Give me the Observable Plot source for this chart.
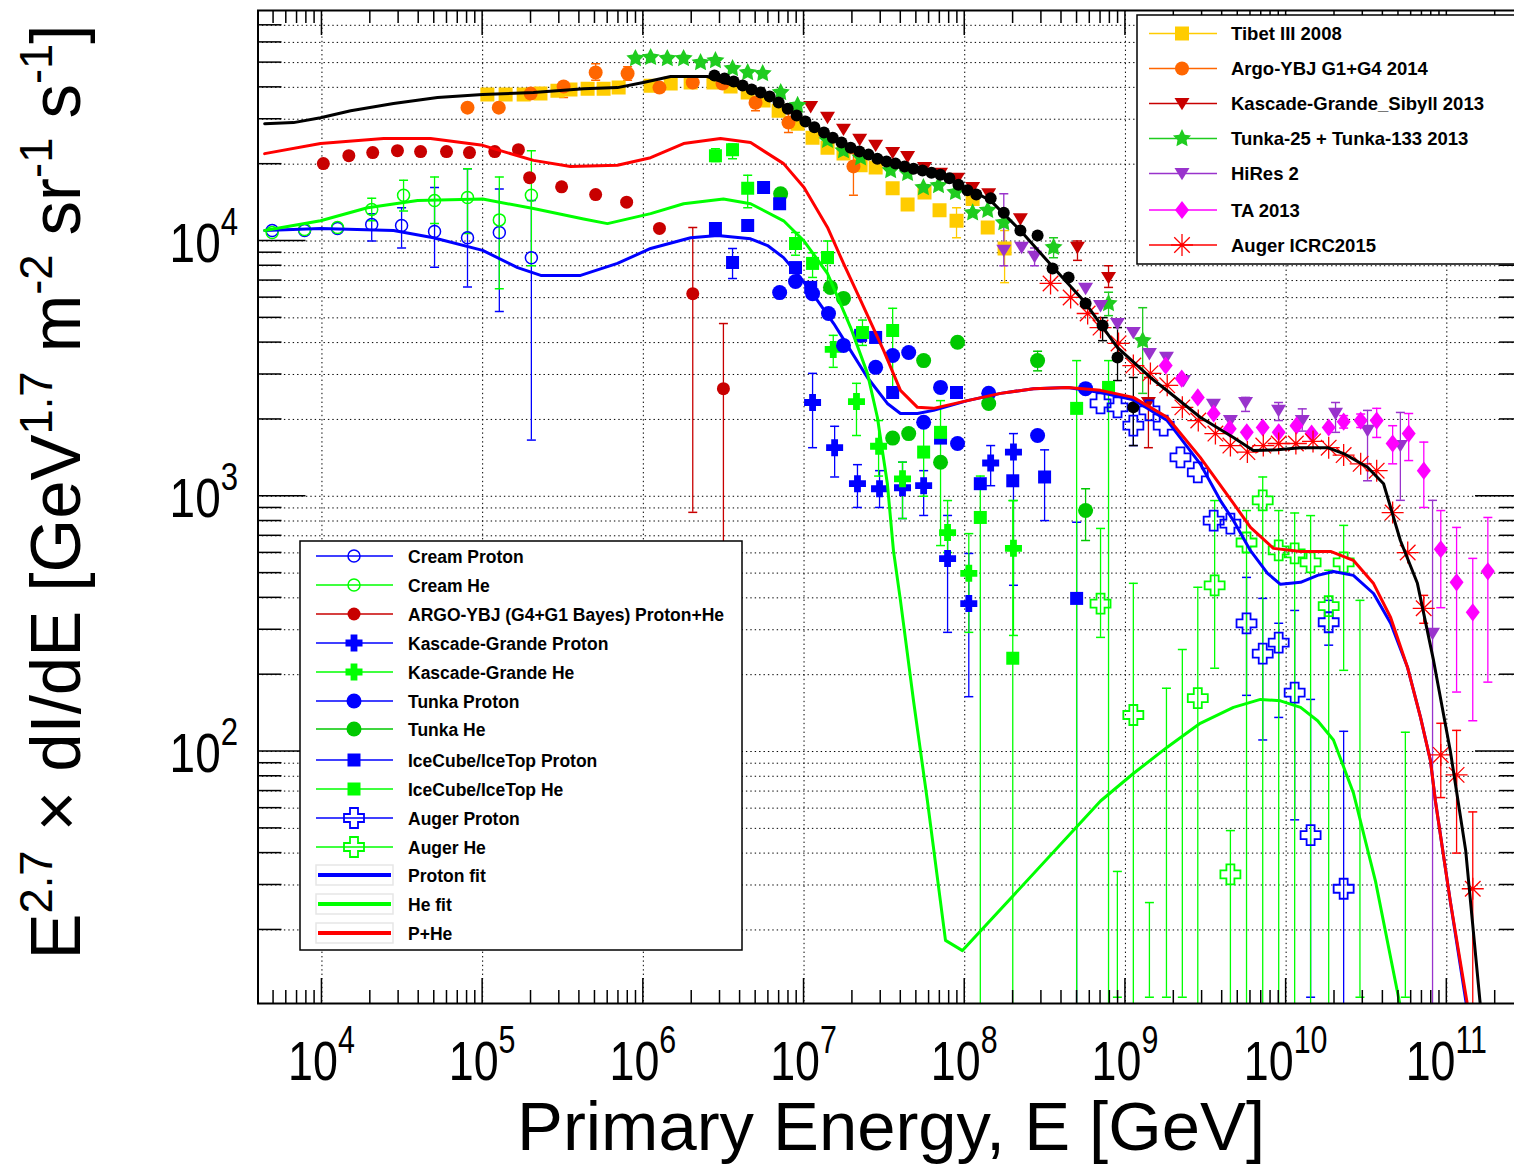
<!DOCTYPE html>
<html><head><meta charset="utf-8">
<script src="https://cdn.jsdelivr.net/npm/d3@7"></script>
<script src="https://cdn.jsdelivr.net/npm/@observablehq/plot@0.6"></script>
<style>
html,body{margin:0;padding:0;background:#fff;overflow:hidden;}
#wrap{width:1514px;height:1167px;overflow:hidden;position:relative;background:#fff;}
</style></head><body><div id="wrap"></div>
<script>
// ---------- data: [E (GeV), E^2.7 dI/dE, errLow, errHigh] ----------
const tibet = [[1.07e5,3.75e4],[1.39e5,3.75e4],[1.8e5,3.75e4],[2.29e5,3.78e4],[2.92e5,3.88e4],[3.52e5,3.92e4],[4.5e5,3.95e4],[5.66e5,3.95e4],[7.02e5,3.99e4],[1.11e6,4.06e4],[1.48e6,4.14e4],[1.97e6,4.18e4],[2.73e6,4.18e4],[3.49e6,4.03e4],[4.46e6,3.82e4],[5.6e6,3.55e4],[6.95e6,3.24e4],[9.12e6,2.88e4],[1.13e7,2.54e4],[1.4e7,2.32e4],[1.76e7,2.2e4],[2.25e7,1.98e4],[2.79e7,1.94e4],[3.56e7,1.61e4],[4.41e7,1.39e4],[5.62e7,1.55e4],[6.97e7,1.32e4],[8.89e7,1.2e4,1.03e4,1.35e4],[1.12e8,1.46e4],[1.39e8,1.13e4],[1.77e8,9.35e3,6.87e3,1.1e4]];
const argo2014 = [[8.05e4,3.33e4],[1.26e5,3.33e4],[1.99e5,3.78e4],[3.19e5,4.03e4,3.65e4,4.18e4],[5.05e5,4.57e4,4.26e4,4.95e4],[7.98e5,4.53e4,4.26e4,4.82e4],[1.26e6,3.99e4],[2.03e6,4.18e4],[3.11e6,4.14e4],[4.99e6,3.48e4,3.24e4,3.65e4],[8.0e6,2.91e4,2.66e4,3.16e4],[2.03e7,1.96e4,1.51e4,2.2e4]];
const kgSibyll = [[1.1e7,3.36e4],[1.4e7,3.05e4],[1.76e7,2.74e4],[2.22e7,2.5e4],[2.79e7,2.37e4],[3.56e7,2.22e4],[4.41e7,2.14e4],[5.62e7,1.94e4],[7.07e7,1.84e4],[9.02e7,1.76e4],[1.12e8,1.62e4],[1.41e8,1.53e4],[2.22e8,1.22e4],[5.03e8,9.44e3,8.4e3,1.0e4],[7.85e8,7.19e3,6.58e3,8.0e3],[1.39e9,2.33e3,1.55e3,2.92e3]];
const tunka2013 = [[8.93e5,5.19e4],[1.11e6,5.24e4],[1.41e6,5.19e4],[1.78e6,5.19e4],[2.27e6,5.0e4],[2.81e6,5.09e4],[3.59e6,4.74e4],[4.46e6,4.57e4],[5.53e6,4.53e4],[7.16e6,3.82e4],[9.12e6,3.4e4],[1.4e7,2.48e4],[1.76e7,2.26e4],[2.25e7,2.12e4],[3.46e7,1.89e4],[4.41e7,1.84e4],[5.53e7,1.62e4],[6.87e7,1.65e4],[8.75e7,1.55e4],[1.12e8,1.29e4],[1.39e8,1.32e4],[1.75e8,1.18e4],[3.57e8,9.44e3,8.6e3,1.03e4],[7.85e8,5.69e3,5.1e3,6.3e3],[1.28e9,4.07e3,2.53e3,5.48e3]];
const hires2 = [[1.75e8,9.2e3,8.0e3,1.53e4],[2.26e8,9.44e3],[2.72e8,8.7e3,8.0e3,9.4e3],[5.65e8,6.52e3],[7.0e8,5.58e3],[8.92e8,4.75e3],[1.12e9,4.38e3],[1.41e9,3.62e3],[1.8e9,3.5e3],[2.3e9,2.84e3],[3.53e9,2.29e3],[4.5e9,1.98e3],[5.59e9,2.33e3,2.15e3,2.44e3],[8.97e9,2.17e3,1.98e3,2.33e3],[1.26e10,1.98e3,1.8e3,2.2e3],[2.03e10,2.11e3,1.78e3,2.33e3],[3.21e10,1.81e3,1.15e3,2.17e3],[5.14e10,1.58e3,964,2.13e3],[8.15e10,290,5,964]];
const ta2013 = [[1.78e9,3.25e3],[2.24e9,2.89e3],[2.82e9,2.44e3],[3.54e9,2.11e3],[4.46e9,1.84e3],[5.69e9,1.78e3],[7.15e9,1.86e3],[8.99e9,1.78e3],[1.16e10,1.89e3],[1.44e10,1.76e3],[1.84e10,1.86e3],[2.28e10,1.96e3,1.85e3,2.07e3],[2.91e10,1.98e3,1.86e3,2.1e3],[3.66e10,1.98e3,1.7e3,2.21e3],[4.6e10,1.61e3,1.34e3,1.89e3],[5.79e10,1.76e3,1.38e3,2.11e3],[7.19e10,1.26e3,904,1.63e3],[9.17e10,620,366,879],[1.15e11,460,171,755],[1.45e11,351,132,571],[1.8e11,508,187,826]];
const augerIcrc = [[3.42e8,6.82e3],[4.56e8,6.01e3],[5.82e8,5.2e3],[7.0e8,4.58e3],[9.06e8,3.97e3],[1.12e9,3.25e3],[1.43e9,3.03e3],[1.82e9,2.72e3],[2.26e9,2.23e3],[2.84e9,1.98e3],[3.63e9,1.76e3],[4.5e9,1.58e3],[5.74e9,1.49e3],[7.21e9,1.58e3],[8.99e9,1.61e3],[1.15e10,1.61e3],[1.47e10,1.64e3],[1.84e10,1.55e3],[2.28e10,1.45e3],[2.91e10,1.34e3],[3.66e10,1.26e3],[4.6e10,863],[5.71e10,602],[7.18e10,364,318,409],[9.17e10,97,66,129],[1.15e11,81,40,121],[1.45e11,29,5,58]];
const allParticle = [[2.77e6,4.45e4],[3.2e6,4.33e4],[3.65e6,4.22e4],[4.15e6,4.07e4],[4.72e6,3.92e4],[5.37e6,3.82e4],[6.11e6,3.68e4],[6.95e6,3.49e4],[7.91e6,3.3e4],[9.0e6,3.1e4],[1.02e7,2.94e4],[1.16e7,2.79e4],[1.33e7,2.66e4],[1.51e7,2.54e4],[1.71e7,2.43e4],[1.95e7,2.32e4],[2.21e7,2.24e4],[2.52e7,2.18e4],[2.86e7,2.1e4],[3.26e7,2.05e4],[3.71e7,2.01e4],[4.22e7,1.96e4],[4.8e7,1.92e4],[5.46e7,1.89e4],[6.21e7,1.85e4],[7.06e7,1.82e4],[8.03e7,1.76e4],[9.14e7,1.66e4],[1.04e8,1.58e4],[1.18e8,1.52e4],[1.45e8,1.47e4],[1.75e8,1.29e4],[2.22e8,1.1e4],[2.84e8,1.05e4],[3.52e8,7.8e3],[4.43e8,7.19e3],[5.65e8,5.69e3],[7.21e8,4.67e3,4.07e3,5.01e3],[8.93e8,3.5e3,2.84e3,4.58e3],[1.12e9,2.23e3,1.58e3,2.92e3]];
const creamP = [[4.9e3,1.1e4],[7.8e3,1.1e4],[1.25e4,1.12e4],[2.04e4,1.16e4,1.0e4,1.28e4],[3.13e4,1.15e4,9.4e3,1.35e4],[5.02e4,1.09e4,7.9e3,1.62e4],[8.05e4,1.03e4,6.6e3,1.92e4],[1.27e5,1.08e4,5.3e3,1.6e4],[2.01e5,8.6e3,1.66e3,1.44e4]];
const creamHe = [[4.9e3,1.08e4],[7.8e3,1.11e4],[1.25e4,1.13e4],[2.04e4,1.33e4,1.2e4,1.47e4],[3.22e4,1.51e4,1.31e4,1.73e4],[5.02e4,1.44e4,1.17e4,1.78e4],[8.05e4,1.48e4,1.07e4,1.92e4],[1.27e5,1.21e4,6.5e3,1.78e4],[2.01e5,1.51e4,8.0e3,2.26e4]];
const argoPHe = [[1.02e4,2.01e4],[1.47e4,2.16e4],[2.07e4,2.22e4],[2.95e4,2.26e4],[4.11e4,2.24e4],[5.96e4,2.24e4],[8.28e4,2.22e4],[1.19e5,2.24e4],[1.67e5,2.28e4],[1.96e5,1.77e4],[3.1e5,1.63e4],[5.05e5,1.52e4],[7.87e5,1.42e4],[1.26e6,1.12e4],[2.03e6,6.22e3,865,1.13e4],[3.15e6,2.64e3,400,4.75e3]];
const kgP = [[1.13e7,2.33e3,1.55e3,3.03e3],[1.55e7,1.55e3,1.19e3,1.88e3],[2.15e7,1.12e3,904,1.33e3],[2.95e7,1.07e3,904,1.26e3],[4.1e7,1.08e3,818,1.36e3],[5.55e7,1.1e3,841,1.26e3],[7.82e7,570,293,841],[1.06e8,380,164,597],[1.45e8,1.35e3,1.1e3,1.58e3],[2.01e8,1.49e3,448,1.76e3]];
const kgHe = [[1.52e7,3.76e3,3.2e3,4.27e3],[2.12e7,2.35e3,1.73e3,2.77e3],[2.91e7,1.57e3,1.2e3,1.98e3],[4.1e7,1.17e3,818,1.36e3],[7.82e7,721,602,962],[1.06e8,499,293,714],[2.01e8,625,285,962]];
const tunkaP = [[7.05e6,6.28e3],[8.85e6,6.94e3],[1.13e7,6.22e3],[1.42e7,5.2e3],[1.76e7,3.9e3],[2.25e7,4.27e3],[2.79e7,3.2e3],[3.56e7,3.56e3],[4.48e7,3.66e3],[5.55e7,1.95e3],[7.07e7,2.67e3],[9.02e7,1.61e3],[1.41e8,2.53e3],[2.84e8,1.73e3],[5.65e8,2.64e3]];
const tunkaHe = [[7.15e6,1.53e4],[1.46e7,6.58e3],[1.76e7,5.96e3],[3.56e7,1.69e3],[4.48e7,1.76e3],[5.55e7,3.4e3],[7.07e7,1.36e3],[9.02e7,4.01e3],[1.41e8,2.31e3],[2.84e8,3.4e3,3.1e3,3.7e3],[5.65e8,879,671,1.07e3]];
const icecubeP = [[2.81e6,1.12e4],[3.59e6,8.24e3,7.13e3,9.35e3],[4.46e6,1.15e4],[5.6e6,1.62e4],[7.05e6,1.4e4],[8.85e6,7.87e3],[1.1e7,6.58e3],[2.25e7,4.27e3],[2.79e7,4.19e3],[3.56e7,2.55e3],[7.07e7,1.69e3],[8.89e7,2.55e3],[1.25e8,1.12e3],[1.99e8,1.15e3],[3.14e8,1.19e3,803,1.52e3],[4.97e8,398,5,791]];
const icecubeHe = [[2.81e6,2.16e4,2.05e4,2.3e4],[3.59e6,2.28e4,2.1e4,2.4e4],[4.46e6,1.61e4,1.35e4,1.81e4],[8.85e6,9.77e3,8.8e3,1.08e4],[1.13e7,8.17e3,7.2e3,9.0e3],[1.4e7,8.61e3,6.4e3,1.0e4],[2.31e7,4.38e3,3.9e3,4.9e3],[3.56e7,4.46e3,2.48e3,5.45e3],[5.55e7,1.49e3,1.0e3,1.98e3],[7.07e7,1.78e3,641,2.37e3],[1.25e8,826,5,1.2e3],[1.99e8,232,5,962],[4.97e8,2.21e3,5,3.4e3],[7.85e8,2.67e3,5,3.4e3]];
const augerP = [[7.0e8,2.31e3],[8.93e8,2.23e3],[1.12e9,1.89e3,1.58e3,2.17e3],[1.41e9,2.17e3],[1.73e9,1.89e3],[2.2e9,1.42e3],[2.82e9,1.24e3],[3.54e9,803],[4.5e9,782],[5.67e9,318,166,481],[7.15e9,242,111,398],[8.99e9,267,136,318],[1.13e10,170,54,357],[1.42e10,47,10.9,160],[1.84e10,321,261,391],[2.28e10,29,5,120]];
const augerHe = [[7.0e8,380,280,748],[1.12e9,139,5,456],[2.82e9,162,5,440],[3.59e9,448,212,962],[4.5e9,33,5,49],[5.67e9,659,5,879],[7.15e9,964,5,1.19e3],[8.99e9,614,5,879],[1.13e10,597,5,860],[1.42e10,551,5,840],[1.84e10,371,5,513],[2.28e10,551,208,769]];
const augerHeBarsOnly = [[8.91e8,10.9,33.9],[1.41e9,10.9,25.6],[1.8e9,10.9,177],[2.26e9,10.9,251],[2.88e10,10.9,391],[5.52e10,10.9,119]];

// ---------- fit curves ----------
const protonFit = [[4.4e3,1.1e4],[9.8e3,1.12e4],[2.79e4,1.1e4],[4.94e4,1.03e4],[1e5,9.19e3],[1.65e5,7.87e3],[2.3e5,7.33e3],[4.07e5,7.33e3],[6.9e5,8.17e3],[1.11e6,9.35e3],[1.97e6,1.03e4],[2.9e6,1.05e4],[4.65e6,1.02e4],[5.93e6,9.6e3],[7.46e6,8.61e3],[9.5e6,7.19e3],[1.21e7,5.85e3],[1.53e7,4.75e3],[1.95e7,3.72e3],[2.48e7,2.92e3],[3.3e7,2.31e3],[3.98e7,2.11e3],[5.08e7,2.11e3],[6.4e7,2.17e3],[1.04e8,2.37e3],[1.67e8,2.53e3],[2.68e8,2.64e3],[4.37e8,2.67e3],[7.0e8,2.55e3],[1.12e9,2.39e3],[1.82e9,1.98e3],[2.92e9,1.34e3],[3.9e9,962],[4.7e9,803],[6.0e9,612],[7.66e9,499],[9.22e9,452],[1.23e10,460],[1.57e10,490],[1.97e10,507],[2.62e10,490],[3.5e10,416],[4.47e10,318],[5.69e10,214],[6.86e10,136],[7.91e10,92],[8.49e10,64],[1.05e11,26],[1.33e11,10]];
const heFit = [[4.4e3,1.1e4],[9.8e3,1.2e4],[1.92e4,1.35e4],[3.94e4,1.44e4],[1e5,1.46e4],[2.07e5,1.34e4],[4.25e5,1.22e4],[5.98e5,1.17e4],[1.11e6,1.28e4],[1.78e6,1.4e4],[3.15e6,1.46e4],[4.65e6,1.4e4],[7.46e6,1.2e4],[1.0e7,1.0e4],[1.4e7,7.46e3],[1.95e7,4.58e3],[2.48e7,3.03e3],[2.86e7,2.04e3],[3.3e7,1.12e3],[3.6e7,614],[3.98e7,391],[4.8e7,158],[5.86e7,64],[7.59e7,18.2],[9.68e7,16.6],[7.0e8,64],[1.12e9,82],[1.82e9,104],[2.92e9,129],[4.7e9,149],[6.92e9,160],[9.22e9,158],[1.23e10,149],[1.57e10,132],[1.97e10,111],[2.62e10,69],[3.6e10,31],[5.14e10,10]];
const pHeFit = [[4.4e3,2.2e4],[9.8e3,2.41e4],[2.42e4,2.52e4],[4.74e4,2.52e4],[1e5,2.37e4],[2.07e5,2.07e4],[3.52e5,1.96e4],[6.9e5,1.98e4],[1.11e6,2.12e4],[1.78e6,2.41e4],[3.02e6,2.52e4],[4.65e6,2.43e4],[7.46e6,2.01e4],[1.0e7,1.62e4],[1.4e7,1.13e4],[1.76e7,8.17e3],[2.25e7,5.85e3],[3.13e7,3.72e3],[3.98e7,2.6e3],[5.08e7,2.23e3],[6.4e7,2.21e3],[1.04e8,2.37e3],[1.67e8,2.53e3],[2.68e8,2.64e3],[4.37e8,2.67e3],[7.0e8,2.6e3],[1.12e9,2.44e3],[1.82e9,2.04e3],[2.92e9,1.42e3],[4.7e9,938],[6.0e9,755],[8.34e9,625],[1.23e10,608],[1.89e10,608],[2.62e10,561],[3.5e10,455],[4.47e10,335],[5.69e10,214],[6.86e10,136],[7.91e10,92],[8.49e10,64],[1.05e11,26],[1.35e11,10]];
const allFit = [[4.4e3,2.88e4],[6.65e3,2.91e4],[9.8e3,3.04e4],[1.51e4,3.24e4],[2.79e4,3.46e4],[5.24e4,3.65e4],[1e5,3.75e4],[2.07e5,3.82e4],[4.25e5,3.95e4],[6.9e5,3.99e4],[1.0e6,4.18e4],[1.48e6,4.41e4],[2.5e6,4.41e4],[3.15e6,4.18e4],[4.65e6,3.95e4],[5.93e6,3.78e4],[1.0e7,2.96e4],[1.52e7,2.54e4],[2.48e7,2.2e4],[3.98e7,2.01e4],[6.38e7,1.85e4],[1.01e8,1.62e4],[1.45e8,1.44e4],[2.22e8,1.1e4],[3.56e8,7.87e3],[5.48e8,5.85e3],[8.9e8,3.83e3],[1.43e9,2.92e3],[1.82e9,2.59e3],[2.92e9,2.04e3],[4.7e9,1.7e3],[6.25e9,1.51e3],[8.83e9,1.52e3],[1.23e10,1.55e3],[1.81e10,1.55e3],[2.28e10,1.47e3],[3.21e10,1.3e3],[4.04e10,1.12e3],[5.14e10,671],[6.56e10,456],[8.26e10,228],[1.05e11,101],[1.31e11,41],[1.62e11,10]];

// ---------- axes ----------
const xDomain = [4e3, 3e11];
const yDomain = [10.3, 8e4];
const xLabelExps = [4,5,6,7,8,9,10,11];
const yLabelExps = [2,3,4];
const decadeMultipliers = [1,2,3,4,5,6,7,8,9];

// ---------- symbols ----------
const rOf = s => Math.sqrt(s / Math.PI);
const symSquare = {draw(c,s){const r=rOf(s); c.rect(-r,-r,2*r,2*r);}};
const symDown = {draw(c,s){const r=rOf(s); c.moveTo(0,r*0.9); c.lineTo(-r,-r*0.75); c.lineTo(r,-r*0.75); c.closePath();}};
const symDiamond = {draw(c,s){const r=rOf(s); c.moveTo(0,-r*1.3); c.lineTo(r,0); c.lineTo(0,r*1.3); c.lineTo(-r,0); c.closePath();}};
const symAst = {draw(c,s){const r=rOf(s), d=r*Math.SQRT1_2; c.moveTo(-r,0);c.lineTo(r,0);c.moveTo(0,-r);c.lineTo(0,r);c.moveTo(-d,-d);c.lineTo(d,d);c.moveTo(-d,d);c.lineTo(d,-d);}};
const symPlus = {draw(c,s){const r=rOf(s), w=r*0.4; c.moveTo(-w,-r);c.lineTo(w,-r);c.lineTo(w,-w);c.lineTo(r,-w);c.lineTo(r,w);c.lineTo(w,w);c.lineTo(w,r);c.lineTo(-w,r);c.lineTo(-w,w);c.lineTo(-r,w);c.lineTo(-r,-w);c.lineTo(-w,-w);c.closePath();}};
const symStar = {draw(c,s){const r=rOf(s), ri=r*0.5; for (let i=0;i<10;i++){const a=-Math.PI/2+i*Math.PI/5, q=i%2?ri:r; if(i===0) c.moveTo(q*Math.cos(a),q*Math.sin(a)); else c.lineTo(q*Math.cos(a),q*Math.sin(a));} c.closePath();}};
const symCap = {draw(c,s){const r=rOf(s); c.moveTo(-r,0); c.lineTo(r,0);}};

const BLUE="#0000ff", GREEN="#00ff00", DKGREEN="#00c800", RED="#ff0000", DKRED="#c80000",
      ORANGE="#ff6600", YELLOW="#ffcc00", PURPLE="#9933cc", MAGENTA="#ff00ff", TGREEN="#1fcc1f";

const series = [
  {name:"Tibet III 2008", data:tibet, color:YELLOW, symbol:symSquare, r:7, fill:YELLOW, stroke:"none", sw:0, leg:"top"},
  {name:"Argo-YBJ G1+G4 2014", data:argo2014, color:ORANGE, symbol:d3.symbolCircle, r:7, fill:ORANGE, stroke:"none", sw:0, leg:"top"},
  {name:"Kascade-Grande_Sibyll 2013", data:kgSibyll, color:DKRED, symbol:symDown, r:7.5, fill:DKRED, stroke:"none", sw:0, leg:"top"},
  {name:"Tunka-25 + Tunka-133 2013", data:tunka2013, color:TGREEN, symbol:symStar, r:9.5, fill:TGREEN, stroke:"none", sw:0, leg:"top"},
  {name:"HiRes 2", data:hires2, color:PURPLE, symbol:symDown, r:7.5, fill:PURPLE, stroke:"none", sw:0, leg:"top"},
  {name:"TA 2013", data:ta2013, color:MAGENTA, symbol:symDiamond, r:7, fill:MAGENTA, stroke:"none", sw:0, leg:"top"},
  {name:"Auger ICRC2015", data:augerIcrc, color:RED, symbol:symAst, r:11, fill:"none", stroke:RED, sw:1.3, leg:"top"},
  {name:"Cream Proton", data:creamP, color:BLUE, symbol:d3.symbolCircle, r:6, fill:"none", stroke:BLUE, sw:1.5, leg:"bottom"},
  {name:"Cream He", data:creamHe, color:GREEN, symbol:d3.symbolCircle, r:6, fill:"none", stroke:GREEN, sw:1.5, leg:"bottom"},
  {name:"ARGO-YBJ (G4+G1 Bayes) Proton+He", data:argoPHe, color:DKRED, symbol:d3.symbolCircle, r:6.5, fill:DKRED, stroke:"none", sw:0, leg:"bottom"},
  {name:"Kascade-Grande Proton", data:kgP, color:BLUE, symbol:symPlus, r:8.5, fill:BLUE, stroke:"none", sw:0, leg:"bottom"},
  {name:"Kascade-Grande He", data:kgHe, color:GREEN, symbol:symPlus, r:8.5, fill:GREEN, stroke:"none", sw:0, leg:"bottom"},
  {name:"Tunka Proton", data:tunkaP, color:BLUE, symbol:d3.symbolCircle, r:7.5, fill:BLUE, stroke:"none", sw:0, leg:"bottom"},
  {name:"Tunka He", data:tunkaHe, color:DKGREEN, symbol:d3.symbolCircle, r:7.5, fill:DKGREEN, stroke:"none", sw:0, leg:"bottom"},
  {name:"IceCube/IceTop Proton", data:icecubeP, color:BLUE, symbol:symSquare, r:6.5, fill:BLUE, stroke:"none", sw:0, leg:"bottom"},
  {name:"IceCube/IceTop He", data:icecubeHe, color:GREEN, symbol:symSquare, r:6.5, fill:GREEN, stroke:"none", sw:0, leg:"bottom"},
  {name:"Auger Proton", data:augerP, color:BLUE, symbol:symPlus, r:10, fill:"none", stroke:BLUE, sw:1.8, leg:"bottom"},
  {name:"Auger He", data:augerHe, color:GREEN, symbol:symPlus, r:10, fill:"none", stroke:GREEN, sw:1.8, leg:"bottom"},
  {name:null, data:allParticle, color:"#000", symbol:d3.symbolCircle, r:6, fill:"#000", stroke:"none", sw:0}
];
const fits = [
  {name:"Proton fit", data:protonFit, color:BLUE},
  {name:"He fit", data:heFit, color:GREEN},
  {name:"P+He", data:pHeFit, color:RED},
  {name:null, data:allFit, color:"#000"}
];

// ---------- build marks ----------
const gridY = [], minorX = [];
for (const e of [1,2,3,4]) for (const m of decadeMultipliers) { const v = m*Math.pow(10,e); if (v > yDomain[0] && v < yDomain[1]) gridY.push(v); }
for (const e of [3,4,5,6,7,8,9,10,11]) for (const m of decadeMultipliers) { const v = m*Math.pow(10,e); if (v > xDomain[0] && v < xDomain[1]) minorX.push(v); }
const gridX = xLabelExps.map(e => Math.pow(10,e));

const X = d => d[0], Y = d => d[1];
const marks = [
  Plot.ruleY(gridY, {y: d=>d, stroke:"#000", strokeWidth:1, strokeDasharray:"1.4,3"}),
  Plot.ruleX(gridX, {x: d=>d, stroke:"#000", strokeWidth:1, strokeDasharray:"1.4,3"})
];
function errMarks(data, color) {
  return [
    Plot.ruleX(data, {x:X, y1:d=>d[2], y2:d=>d[3], stroke:color, strokeWidth:1.3, clip:true}),
    Plot.dot(data, {x:X, y:d=>d[2], symbol:symCap, r:4.5, fill:"none", stroke:color, strokeWidth:1.5, clip:true}),
    Plot.dot(data, {x:X, y:d=>d[3], symbol:symCap, r:4.5, fill:"none", stroke:color, strokeWidth:1.5, clip:true})
  ];
}
for (const s of series) {
  const err = s.data.filter(d => d.length > 2);
  if (err.length) marks.push(...errMarks(err, s.color));
}
marks.push(...errMarks(augerHeBarsOnly.map(d => [d[0], null, d[1], d[2]]), GREEN));
for (const s of series) {
  marks.push(Plot.dot(s.data, {x:X, y:Y, symbol:s.symbol, r:s.r, fill:s.fill, stroke:s.stroke, strokeWidth:s.sw, clip:true}));
}
for (const f of fits) {
  marks.push(Plot.line(f.data, {x:X, y:Y, stroke:f.color, strokeWidth:3, clip:true}));
}
marks.push(Plot.frame({stroke:"#000", strokeWidth:2}));

const plot = Plot.plot({
  width: 1526, height: 1167,
  marginLeft: 257.5, marginRight: 3, marginTop: 10, marginBottom: 164,
  x: {type:"log", domain:xDomain, axis:null},
  y: {type:"log", domain:yDomain, axis:null},
  style: {background:"#fff", maxWidth:"none", overflow:"hidden"},
  marks
});
document.getElementById("wrap").appendChild(plot);

// ---------- ROOT-style ticks, labels, titles, legends ----------
const FONT = "'Liberation Sans', Arial, Helvetica, sans-serif";
const sx = plot.scale("x"), sy = plot.scale("y");
const svg = d3.select(plot);
const [L, R] = sx.range, [B, T] = sy.range;
const tg = svg.append("g").attr("stroke","#000").attr("stroke-width",1.5);
for (const v of minorX) {
  const x = sx.apply(v), major = gridX.includes(v);
  const len = major ? 25 : 13;
  tg.append("line").attr("x1",x).attr("x2",x).attr("y1",T).attr("y2",T+len);
  tg.append("line").attr("x1",x).attr("x2",x).attr("y1",B).attr("y2",B-len);
}
for (const v of gridY) {
  const y = sy.apply(v), major = yLabelExps.some(e => Math.pow(10,e) === v);
  const len = major ? 48 : 24;
  tg.append("line").attr("x1",L).attr("x2",L+len).attr("y1",y).attr("y2",y);
  tg.append("line").attr("x1",R).attr("x2",R-len).attr("y1",y).attr("y2",y);
}
function powLabel(x, y, e, anchor, sc) {
  const t = svg.append("text").attr("transform",`translate(${x},${y}) scale(${sc},1)`)
    .attr("text-anchor",anchor).attr("font-family",FONT).attr("font-size",56).attr("fill","#000");
  t.append("tspan").text("10");
  t.append("tspan").attr("font-size",38).attr("dy",-27).text(String(e));
}
for (const e of xLabelExps) powLabel(sx.apply(Math.pow(10,e)), 1080, e, "middle", 0.8);
for (const e of yLabelExps) powLabel(238, sy.apply(Math.pow(10,e)) + 21, e, "end", 0.82);

svg.append("text").attr("x", 891).attr("y", 1150).attr("text-anchor","middle")
  .attr("font-family",FONT).attr("font-size",68).attr("fill","#000")
  .attr("textLength",748).attr("lengthAdjust","spacingAndGlyphs")
  .text("Primary Energy, E [GeV]");

const yt = svg.append("text").attr("transform","translate(80,492) rotate(-90)").attr("text-anchor","middle")
  .attr("font-family",FONT).attr("font-size",70).attr("fill","#000")
  .attr("textLength",935).attr("lengthAdjust","spacingAndGlyphs");
const ytParts = [["E",0],["2.7",1],[" \u00d7 dI/dE [GeV",0],["1.7",1],[" m",0],["-2",1],[" sr",0],["-1",1],[" s",0],["-1",1],["]",0]];
let up = false;
for (const [txt, sup] of ytParts) {
  const ts = yt.append("tspan").text(txt);
  if (sup && !up) { ts.attr("font-size",46).attr("dy",-28); up = true; }
  else if (sup) { ts.attr("font-size",46); }
  else if (up) { ts.attr("dy",28); up = false; }
}

function legendEntry(g, s, yc, x0, x1, xm, xt, fs) {
  g.append("line").attr("x1",x0).attr("x2",x1).attr("y1",yc).attr("y2",yc).attr("stroke",s.color).attr("stroke-width",1.5);
  g.append("path").attr("transform",`translate(${xm},${yc})`)
    .attr("d", d3.symbol(s.symbol, Math.PI*s.r*s.r)())
    .attr("fill", s.fill).attr("stroke", s.stroke === "none" ? null : s.stroke).attr("stroke-width", s.sw);
  g.append("text").attr("x",xt).attr("y",yc+6.5).attr("text-anchor","start").attr("font-family",FONT).attr("font-weight","bold")
    .attr("font-size",fs).attr("fill","#000").text(s.name);
}
// top-right legend
const lg1 = svg.append("g");
lg1.append("rect").attr("x",1137).attr("y",15).attr("width",420).attr("height",249).attr("fill","#fff").attr("stroke","#000").attr("stroke-width",1.5);
const topY = [33.5, 68.5, 103.5, 138.5, 173.5, 210, 245];
series.filter(s => s.leg === "top").forEach((s,i) => legendEntry(lg1, s, topY[i], 1149, 1217, 1182, 1231, 18.5));
// bottom-left legend
const lg2 = svg.append("g");
lg2.append("rect").attr("x",300).attr("y",541).attr("width",442).attr("height",409).attr("fill","#fff").attr("stroke","#000").attr("stroke-width",1.5);
const botY = [556, 585, 614, 643, 672, 701, 729, 760, 789, 818, 847, 875, 904, 933];
const botSeries = series.filter(s => s.leg === "bottom");
botSeries.forEach((s,i) => legendEntry(lg2, s, botY[i], 316, 393, 354, 408, 17.5));
fits.filter(f => f.name).forEach((f,j) => {
  const yc = botY[botSeries.length + j];
  lg2.append("rect").attr("x",316).attr("y",yc-10).attr("width",77).attr("height",20).attr("fill","none").attr("stroke","#e6e6e6").attr("stroke-width",1.5);
  lg2.append("line").attr("x1",318).attr("x2",391).attr("y1",yc).attr("y2",yc).attr("stroke",f.color).attr("stroke-width",4);
  lg2.append("text").attr("x",408).attr("y",yc+6.5).attr("text-anchor","start").attr("font-family",FONT).attr("font-weight","bold")
    .attr("font-size",17.5).attr("fill","#000").text(f.name);
});
</script></body></html>
